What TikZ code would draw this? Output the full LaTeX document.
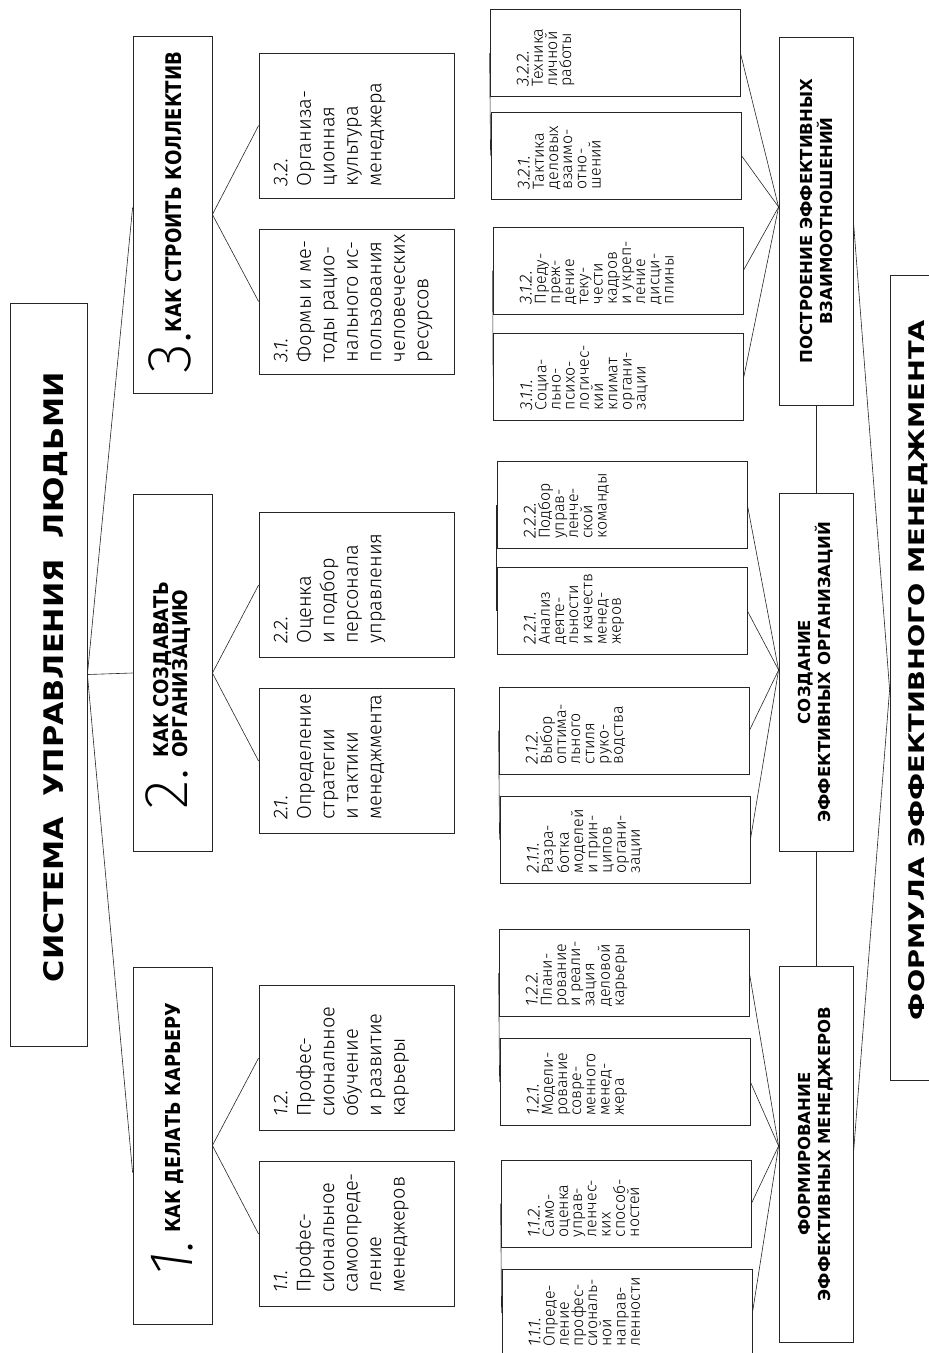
\documentclass[tikz,border=0pt]{standalone}
\usepackage{fontspec}
\IfFontExistsTF{Fira Sans Light}
  {\setmainfont{Fira Sans Light}}
  {\setmainfont{Fira Sans}}
\IfFontExistsTF{Fira Sans Heavy}
  {\newfontfamily\headfont{Fira Sans Heavy}}
  {\newfontfamily\headfont{DejaVu Sans Bold}}
\IfFontExistsTF{Fira Sans ExtraLight}
  {\newfontfamily\thinfont{Fira Sans ExtraLight}}
  {\IfFontExistsTF{DejaVu Sans ExtraLight}
     {\newfontfamily\thinfont{DejaVu Sans ExtraLight}}
     {\newfontfamily\thinfont{Fira Sans}}}
\usetikzlibrary{calc}

\tikzset{
  box/.style={draw=black!85, line width=0.8pt, inner sep=0pt},
  link/.style={draw=black!85, line width=0.6pt},
  txt/.style={rotate=90, inner sep=0pt, align=left},
  leaftxt/.style={txt, anchor=north west, font=\fontsize{16}{14.2}\selectfont},
  midtxt/.style={txt, anchor=north west, font=\fontsize{20}{23.5}\selectfont},
  sidetxt/.style={txt, align=center, font=\headfont\fontsize{16.5}{20}\selectfont},
  bignum/.style={txt, anchor=base west, font=\thinfont\fontsize{62}{62}\selectfont},
  leaf/.style={box, minimum width=250pt, minimum height=87pt},
  mid/.style={box, minimum width=195pt, minimum height=145pt},
  top/.style={box, minimum width=79pt, minimum height=357pt},
  side/.style={box, minimum width=74pt},
}
\newcommand{\lnum}[1]{{\fontsize{17.5}{14.2}\selectfont\itshape #1}}
\newcommand{\mnum}[1]{{\itshape #1}}

\begin{document}
\begin{tikzpicture}[x=1pt, y=-1pt]
\useasboundingbox (0,0) rectangle (929,1353);
\clip (0,0) rectangle (929,1353);

% system
\node[box, minimum width=77pt, minimum height=743pt] (sys) at (48.5,674.5) {};
\node[txt, anchor=base] (syst) at (63,677)
  {\resizebox{610pt}{20pt}{\headfont СИСТЕМА\ \ УПРАВЛЕНИЯ\ \ ЛЮДЬМИ}};

% first level
\node[top] (k3) at (172.5,214.5) {};
\node[top] (k2) at (172.5,673) {};
\node[top] (k1) at (172.5,1145.5) {};

\node[bignum] (n1) at (192,1277) {\itshape 1.};
\node[txt, anchor=base west] (h1) at (180,1233) {\resizebox{230pt}{15pt}{\headfont КАК ДЕЛАТЬ КАРЬЕРУ}};
\node[bignum] (n2) at (187,810) {2.};
\node[txt, anchor=base west] (h2a) at (168,758) {\resizebox{176pt}{15pt}{\headfont КАК СОЗДАВАТЬ}};
\node[txt, anchor=base west] (h2b) at (187,758) {\resizebox{168pt}{15pt}{\headfont ОРГАНИЗАЦИЮ}};
\node[bignum] (n3) at (190,374) {3.};
\node[txt, anchor=base west] (h3) at (181,333) {\resizebox{281pt}{16pt}{\headfont КАК СТРОИТЬ КОЛЛЕКТИВ}};

% second level
\node[mid] (b32) at (356.5,125.5) {};
\node[mid] (b31) at (356.5,301.5) {};
\node[mid] (b22) at (356.5,585) {};
\node[mid] (b21) at (356.5,761) {};
\node[mid] (b12) at (356.5,1058) {};
\node[mid] (b11) at (356.5,1234) {};

\node[midtxt] (b32t) at ([xshift=15pt,yshift=12pt]b32.south west) {\mnum{3.2.}\\Организа-\\ционная\\культура\\менеджера};
\node[midtxt] (b31t) at ([xshift=15pt,yshift=12pt]b31.south west) {\mnum{3.1.}\\Формы и ме-\\тоды рацио-\\нального ис-\\пользования\\человеческих\\ресурсов};
\node[midtxt] (b22t) at ([xshift=15pt,yshift=14pt]b22.south west) {\mnum{2.2.}\\Оценка\\и подбор\\персонала\\управления};
\node[midtxt] (b21t) at ([xshift=15pt,yshift=14pt]b21.south west) {\mnum{2.1.}\\Определение\\стратегии\\и тактики\\менеджмента};
\node[midtxt] (b12t) at ([xshift=15pt,yshift=14pt]b12.south west) {\mnum{1.2.}\\Профес-\\сиональное\\обучение\\и развитие\\карьеры};
\node[midtxt] (b11t) at ([xshift=15pt,yshift=14pt]b11.south west) {\mnum{1.1.}\\Профес-\\сиональное\\самоопреде-\\ление\\менеджеров};

% leaves
\node[leaf] (l322) at (615,53) {};
\node[leaf] (l321) at (616,155.5) {};
\node[leaf] (l312) at (618,270.5) {};
\node[leaf] (l311) at (618.5,376.5) {};
\node[leaf] (l222) at (622,505) {};
\node[leaf] (l221) at (622,611) {};
\node[leaf] (l212) at (624,730.5) {};
\node[leaf] (l211) at (625,839.5) {};
\node[leaf] (l122) at (624,973) {};
\node[leaf] (l121) at (625,1082) {};
\node[leaf] (l112) at (626,1203.5) {};
\node[leaf] (l111) at (627,1313) {};

\node[leaftxt] (l322t) at ([xshift=27pt,yshift=10pt]l322.south west) {\lnum{3.2.2.}\\Техника\\личной\\работы};
\node[leaftxt] (l321t) at ([xshift=27pt,yshift=10pt]l321.south west) {\lnum{3.2.1.}\\Тактика\\деловых\\взаимо-\\отно-\\шений};
\node[leaftxt] (l312t) at ([xshift=27pt,yshift=10pt]l312.south west) {\lnum{3.1.2.}\\Преду-\\преж-\\дение\\теку-\\чести\\кадров\\и укреп-\\ление\\дисци-\\плины};
\node[leaftxt] (l311t) at ([xshift=27pt,yshift=10pt]l311.south west) {\lnum{3.1.1.}\\Социа-\\льно-\\психо-\\логичес-\\кий\\климат\\органи-\\зации};
\node[leaftxt] (l222t) at ([xshift=27pt,yshift=10pt]l222.south west) {\lnum{2.2.2.}\\Подбор\\управ-\\ленче-\\ской\\команды};
\node[leaftxt] (l221t) at ([xshift=27pt,yshift=10pt]l221.south west) {\lnum{2.2.1.}\\Анализ\\деяте-\\льности\\и качеств\\менед-\\жеров};
\node[leaftxt] (l212t) at ([xshift=27pt,yshift=10pt]l212.south west) {\lnum{2.1.2.}\\Выбор\\оптима-\\льного\\стиля\\руко-\\водства};
\node[leaftxt] (l211t) at ([xshift=27pt,yshift=10pt]l211.south west) {\lnum{2.1.1.}\\Разра-\\ботка\\моделей\\и прин-\\ципов\\органи-\\зации};
\node[leaftxt] (l122t) at ([xshift=27pt,yshift=10pt]l122.south west) {\lnum{1.2.2.}\\Плани-\\рование\\и реали-\\зация\\деловой\\карьеры};
\node[leaftxt] (l121t) at ([xshift=27pt,yshift=10pt]l121.south west) {\lnum{1.2.1.}\\Модели-\\рование\\совре-\\менного\\менед-\\жера};
\node[leaftxt] (l112t) at ([xshift=27pt,yshift=10pt]l112.south west) {\lnum{1.1.2.}\\Само-\\оценка\\управ-\\ленчес-\\ких\\способ-\\ностей};
\node[leaftxt] (l111t) at ([xshift=27pt,yshift=10pt]l111.south west) {\lnum{1.1.1.}\\Опреде-\\ление\\профес-\\сиональ-\\ной\\направ-\\ленности};

% right column
\node[side, minimum height=368pt] (pb) at (816,221) {};
\node[side, minimum height=358pt] (sb) at (816,672) {};
\node[side, minimum height=376pt] (fb) at (816,1154) {};
\node[box, minimum width=60pt, minimum height=805pt] (fm) at (920,677.5) {};

\node[sidetxt] (pbt) at (pb.center) {ПОСТРОЕНИЕ ЭФФЕКТИВНЫХ\\ВЗАИМООТНОШЕНИЙ};
\node[sidetxt] (sbt) at (sb.center) {СОЗДАНИЕ\\ЭФФЕКТИВНЫХ ОРГАНИЗАЦИЙ};
\node[sidetxt] (fbt) at (fb.center) {ФОРМИРОВАНИЕ\\ЭФФЕКТИВНЫХ МЕНЕДЖЕРОВ};
\node[txt, anchor=base] (fmt) at (924,670) {\resizebox{700pt}{16pt}{\headfont ФОРМУЛА ЭФФЕКТИВНОГО МЕНЕДЖМЕНТА}};

% connectors
\draw[link] ([yshift=7pt]k3.west) -- (sys.east) -- (k2.west);
\draw[link] (sys.east) -- ([yshift=-27pt]k1.west);

\foreach \p/\a/\b in {k3/b32/b31, k2/b22/b21, k1/b12/b11}
  \draw[link] (\a.west) -- (\p.east) -- (\b.west);

\foreach \p/\a/\b in {b32/l322/l321, b31/l312/l311, b22/l222/l221,
                      b21/l212/l211, b12/l122/l121, b11/l112/l111}
  \draw[link] (\a.west) -- ($(\a.west)!.5!(\b.west)$ -| \p.east) -- (\b.west);

\coordinate (pv) at (pb.west |- 0,207);
\coordinate (sv) at (sb.west |- 0,670);
\coordinate (fv) at (fb.west |- 0,1146);
\foreach \l in {l322, l321, l312, l311} \draw[link] (\l.east) -- (pv);
\foreach \l in {l222, l221, l212, l211} \draw[link] (\l.east) -- (sv);
\foreach \l in {l122, l121, l112, l111} \draw[link] (\l.east) -- (fv);

\draw[link] (pb.south) -- (sb.north);
\draw[link] (sb.south) -- (fb.north);
\draw[link] (pb.east) -- ([yshift=-12pt]fm.west) -- (fb.east);
\end{tikzpicture}
\end{document}
